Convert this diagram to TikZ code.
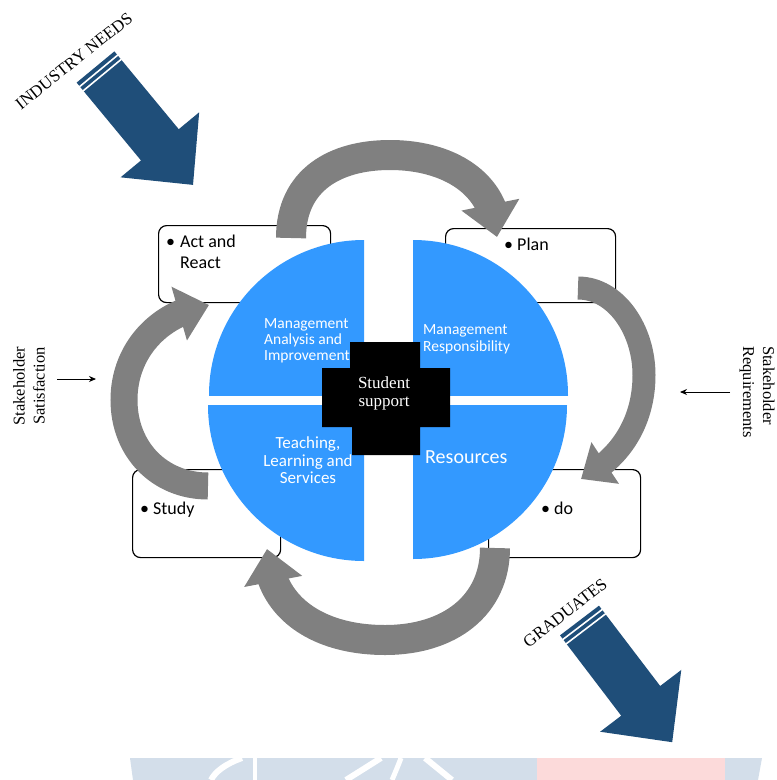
\documentclass[tikz,border=0pt]{standalone}
\usepackage{fontspec}
\setmainfont{Liberation Serif}
\newfontfamily\calfont{Carlito}
\usetikzlibrary{arrows.meta,bending}
\definecolor{qblue}{HTML}{3399FF}
\definecolor{dblue}{HTML}{1F4E79}
\definecolor{agray}{HTML}{808080}
\definecolor{wmblue}{HTML}{D3DEEA}
\definecolor{wmpink}{HTML}{FCDADA}
\tikzset{
  pdcabox/.style={draw=black, line width=1.2pt, fill=white, rounded corners=8pt},
  cyclearrow/.style={draw=agray, line width=30pt, -{Triangle[width=57pt,length=33pt]}},
  boxtext/.style={anchor=base west, inner sep=0pt, font=\calfont\fontsize{18}{20}\selectfont},
  quadtext/.style={anchor=base west, inner sep=0pt, text=white, font=\calfont\fontsize{15.5}{17}\selectfont},
  sidetext/.style={inner sep=0pt, font=\fontsize{16.5}{20}\selectfont},
  biglabel/.style={inner sep=0pt, font=\fontsize{17}{20}\selectfont},
  thinarrow/.style={draw=black, line width=0.9pt, -{Stealth[length=7pt,width=6pt]}},
  wmstroke/.style={draw=white, line width=6pt}
}
\begin{document}
\begin{tikzpicture}[x=1pt,y=-1pt]
\useasboundingbox (0,0) rectangle (777,780);

% watermark band
\fill[wmblue] (130,758) -- (537,758) -- (537,780) -- (133,780) -- cycle;
\fill[wmpink] (537,758) -- (725,758) -- (725,780) -- (537,780) -- cycle;
\fill[wmblue] (725,758) -- (762,758) -- (758,780) -- (725,780) -- cycle;
\draw[wmstroke] (242,758) .. controls (225,764) and (215,772) .. (211,780);
\draw[wmstroke, line width=4pt] (255,758) -- (255,780);
\draw[wmstroke] (381,758) -- (346,780);
\draw[wmstroke, line width=5pt] (401,758) .. controls (398,766) and (395,773) .. (392,780);
\draw[wmstroke] (425,758) -- (452,780);

% boxes
\node[pdcabox, minimum width=172pt, minimum height=77pt, anchor=north west] (act) at (158,225) {};
\node[pdcabox, minimum width=170pt, minimum height=74pt, anchor=north west] (plan) at (445,228) {};
\node[pdcabox, minimum width=148pt, minimum height=88pt, anchor=north west] (study) at (132,469) {};
\node[pdcabox, minimum width=152pt, minimum height=88pt, anchor=north west] (do) at (488,469) {};

% quadrants
\begin{scope}
  \clip (150,200) rectangle (364,395);
  \fill[qblue] (364,395) circle[radius=155];
\end{scope}
\begin{scope}
  \clip (413,200) rectangle (640,395);
  \fill[qblue] (413,395) circle[radius=155];
\end{scope}
\begin{scope}
  \clip (150,405) rectangle (364,600);
  \fill[qblue] (364,405) circle[radius=156];
\end{scope}
\begin{scope}
  \clip (413,405) rectangle (640,600);
  \fill[qblue] (413,405) circle[radius=154];
\end{scope}

% cycle arrows
\coordinate (t0) at (291,238);
\coordinate (t1) at (497,237);
\path[cyclearrow] (t0) .. controls (291,180) and (335,155) .. (390,155) .. controls (450,155) and (497,185) .. (t1);
\coordinate (r0) at (578,288);
\coordinate (r1) at (581,479);
\path[cyclearrow, line width=23pt, -{Triangle[width=48pt,length=29pt]}] (r0) .. controls (616,288) and (644,330) .. (644,375) .. controls (644,420) and (622,458) .. (r1);
\coordinate (b0) at (495,548);
\coordinate (b1) at (267,549);
\path[cyclearrow] (b0) .. controls (495,605) and (450,640) .. (385,640) .. controls (315,640) and (268,605) .. (b1);
\coordinate (l0) at (208,486);
\coordinate (l1) at (209,305);
\path[cyclearrow, line width=27pt, -{Triangle[width=54pt,length=31pt]}] (l0) .. controls (160,486) and (124,450) .. (124,400) .. controls (124,350) and (160,312) .. (l1);

% box texts
\node[boxtext] (actb) at (166,247) {•};
\node[boxtext] (actt) at (180,247) {Act and};
\node[boxtext] (actr) at (180,268) {React};
\node[boxtext] (planb) at (504,250) {•};
\node[boxtext] (plant) at (517,250) {Plan};
\node[boxtext] (studyb) at (140,514) {•};
\node[boxtext] (studyt) at (153,514) {Study};
\node[boxtext] (dob) at (541,514) {•};
\node[boxtext] (dot) at (554,514) {do};

% quadrant texts
\node[quadtext] (q1a) at (264,328) {Management};
\node[quadtext] (q1b) at (264,344) {Analysis and};
\node[quadtext] (q1c) at (264,360) {Improvement};
\node[quadtext] (q2a) at (423,334) {Management};
\node[quadtext] (q2b) at (423,351) {Responsibility};
\node[quadtext, anchor=base, font=\calfont\fontsize{17}{18}\selectfont] (q3a) at (308,448) {Teaching,};
\node[quadtext, anchor=base, font=\calfont\fontsize{17}{18}\selectfont] (q3b) at (308,466) {Learning and};
\node[quadtext, anchor=base, font=\calfont\fontsize{17}{18}\selectfont] (q3c) at (308,483) {Services};
\node[quadtext, font=\calfont\fontsize{20}{22}\selectfont] (q4) at (425,463) {Resources};

% student support cross
\fill[black] (350,342) -- (420,342) -- (420,368) -- (450,368) -- (450,427) -- (420,427)
  -- (420,455) -- (352,455) -- (352,427) -- (322,427) -- (322,368) -- (350,368) -- cycle;
\node[anchor=base, inner sep=0pt, text=white, font=\fontsize{17}{18}\selectfont] (ss1) at (384,388) {Student};
\node[anchor=base, inner sep=0pt, text=white, font=\fontsize{17}{18}\selectfont] (ss2) at (384,406) {support};

% industry needs arrow
\begin{scope}[shift={(95.5,67)}, rotate=-50.4]
  \fill[dblue] (0,-24.5) -- (101,-24.5) -- (101,-51) -- (153,0) -- (101,51) -- (101,24.5) -- (0,24.5) -- cycle;
  \draw[white, line width=1.6pt] (5,-25) -- (5,25);
  \draw[white, line width=1.6pt] (10.5,-25) -- (10.5,25);
\end{scope}
\node[biglabel, rotate=38.5] (ind) at (74,61) {INDUSTRY NEEDS};

% graduates arrow
\begin{scope}[shift={(579.5,620.5)}, rotate=-52.7]
  \fill[dblue] (0,-24.5) -- (101,-24.5) -- (101,-51) -- (153,0) -- (101,51) -- (101,24.5) -- (0,24.5) -- cycle;
  \draw[white, line width=1.6pt] (5,-25) -- (5,25);
  \draw[white, line width=1.6pt] (10.5,-25) -- (10.5,25);
\end{scope}
\node[biglabel, rotate=38] (grad) at (565,613) {GRADUATES};

% stakeholder labels
\node[sidetext, rotate=90, align=center] (sat) at (29,386) {Stakeholder\\Satisfaction};
\node[sidetext, rotate=-90, align=left] (req) at (757,392) {Stakeholder\\Requirements};
\coordinate (sa0) at (57,379);
\coordinate (sa1) at (96,379);
\draw[thinarrow] (sa0) -- (sa1);
\coordinate (ra0) at (730,392);
\coordinate (ra1) at (680,392);
\draw[thinarrow] (ra0) -- (ra1);
\end{tikzpicture}
\end{document}
